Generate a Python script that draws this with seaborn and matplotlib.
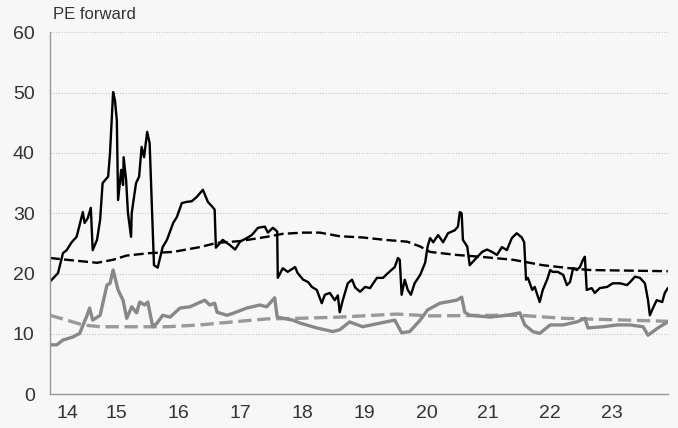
import pandas as pd
import matplotlib.pyplot as plt
import seaborn as sns
import numpy as np

# Values, x in decimal years
blk_x = [2014.42, 2014.45, 2014.55, 2014.63, 2014.69, 2014.77, 2014.85, 2014.90, 2014.95, 2014.98,
         2015.03, 2015.08, 2015.11, 2015.18, 2015.23, 2015.27, 2015.36, 2015.39, 2015.44, 2015.47,
         2015.50, 2015.52, 2015.57, 2015.60, 2015.61, 2015.65, 2015.68, 2015.73, 2015.74, 2015.81,
         2015.86, 2015.90, 2015.94, 2015.99, 2016.03, 2016.07, 2016.10, 2016.16, 2016.24, 2016.31,
         2016.41, 2016.47, 2016.55, 2016.63, 2016.71, 2016.79, 2016.89, 2016.97, 2017.05, 2017.08,
         2017.10, 2017.21, 2017.33, 2017.41, 2017.49, 2017.60, 2017.68, 2017.78, 2017.89, 2017.94,
         2018.02, 2018.09, 2018.10, 2018.18, 2018.26, 2018.38, 2018.42, 2018.51, 2018.59, 2018.65,
         2018.73, 2018.81, 2018.86, 2018.94, 2019.02, 2019.07, 2019.10, 2019.15, 2019.23, 2019.30,
         2019.35, 2019.43, 2019.51, 2019.59, 2019.70, 2019.80, 2019.88, 2019.99, 2020.04, 2020.07,
         2020.10, 2020.15, 2020.20, 2020.25, 2020.31, 2020.40, 2020.48, 2020.52, 2020.56, 2020.61,
         2020.69, 2020.77, 2020.85, 2020.96, 2021.01, 2021.04, 2021.07, 2021.09, 2021.16, 2021.20,
         2021.28, 2021.40, 2021.48, 2021.56, 2021.64, 2021.72, 2021.80, 2021.88, 2021.96, 2022.04,
         2022.08, 2022.11, 2022.14, 2022.21, 2022.25, 2022.30, 2022.33, 2022.38, 2022.45, 2022.50,
         2022.54, 2022.62, 2022.71, 2022.77, 2022.82, 2022.87, 2022.93, 2022.98, 2023.03, 2023.06,
         2023.09, 2023.17, 2023.22, 2023.30, 2023.42, 2023.51, 2023.63, 2023.74, 2023.79, 2023.87,
         2023.95, 2024.03, 2024.08, 2024.11, 2024.16, 2024.22, 2024.31, 2024.35, 2024.40]
blk_y = [18.7, 19.0, 20.1, 23.4, 23.9, 25.2, 26.1, 28.1, 30.2, 28.4,
         29.2, 30.9, 23.9, 25.6, 28.9, 35.0, 36.1, 40.0, 50.1, 48.7,
         45.4, 32.2, 37.2, 34.7, 39.3, 35.5, 30.0, 26.1, 30.0, 35.0,
         36.1, 41.0, 39.3, 43.5, 41.6, 30.2, 21.4, 21.0, 24.4, 25.6,
         28.4, 29.4, 31.7, 31.9, 32.0, 32.7, 33.9, 31.9, 31.0, 30.6,
         24.3, 25.6, 24.7, 24.0, 25.3, 25.9, 26.4, 27.6, 27.8, 26.8,
         27.6, 27.0, 19.3, 20.9, 20.3, 21.1, 20.1, 19.0, 18.6, 17.8,
         17.3, 15.1, 16.5, 16.8, 15.6, 16.4, 13.6, 15.6, 18.4, 19.0,
         17.7, 17.0, 17.8, 17.6, 19.3, 19.3, 20.1, 21.1, 22.6, 22.3,
         16.5, 19.0, 17.3, 16.5, 18.4, 19.8, 21.8, 24.5, 25.9, 25.2,
         26.4, 25.2, 26.7, 27.2, 27.8, 30.2, 30.0, 25.6, 24.5, 21.4,
         22.3, 23.6, 24.0, 23.6, 23.1, 24.4, 23.9, 25.9, 26.7, 26.0,
         25.2, 19.0, 19.3, 17.3, 17.8, 16.2, 15.3, 17.3, 19.0, 20.6,
         20.3, 20.3, 19.8, 18.1, 18.6, 20.9, 20.6, 21.1, 22.3, 22.8,
         17.3, 17.6, 16.8, 17.6, 17.8, 18.4, 18.4, 18.1, 18.6, 19.5,
         19.3, 18.4, 15.6, 13.1, 14.3, 15.6, 15.3, 16.8, 17.6]

blk_avg_x = [2014.42, 2014.69, 2015.18, 2015.44, 2015.66, 2016.03, 2016.41, 2016.84, 2017.12,
             2017.49, 2017.92, 2018.18, 2018.51, 2018.78, 2019.10, 2019.47, 2019.83, 2020.19,
             2020.40, 2020.56, 2020.99, 2021.37, 2021.90, 2022.38, 2022.82, 2023.14, 2024.40]
blk_avg_y = [22.6, 22.3, 21.8, 22.3, 23.0, 23.4, 23.6, 24.4, 25.1,
             25.4, 26.1, 26.6, 26.8, 26.8, 26.2, 26.0, 25.6, 25.3,
             24.5, 23.6, 23.1, 22.8, 22.3, 21.4, 20.9, 20.6, 20.4]

gry_x = [2014.42, 2014.53, 2014.63, 2014.79, 2014.90, 2015.02, 2015.06, 2015.11, 2015.23, 2015.34,
         2015.39, 2015.44, 2015.52, 2015.60, 2015.66, 2015.74, 2015.82, 2015.87, 2015.95, 2016.00,
         2016.08, 2016.15, 2016.24, 2016.36, 2016.52, 2016.68, 2016.92, 2017.00, 2017.08, 2017.12,
         2017.28, 2017.37, 2017.60, 2017.81, 2017.92, 2018.05, 2018.09, 2018.34, 2018.46, 2018.73,
         2018.99, 2019.10, 2019.26, 2019.47, 2019.75, 2019.99, 2020.10, 2020.23, 2020.40, 2020.52,
         2020.72, 2020.99, 2021.07, 2021.12, 2021.20, 2021.53, 2021.80, 2022.01, 2022.09, 2022.22,
         2022.33, 2022.50, 2022.71, 2022.93, 2023.06, 2023.11, 2023.35, 2023.58, 2023.79, 2024.00,
         2024.08, 2024.24, 2024.40]
gry_y = [8.2, 8.2, 9.0, 9.5, 10.1, 13.1, 14.3, 12.3, 13.1, 18.1,
         18.4, 20.6, 17.3, 15.6, 12.6, 14.5, 13.5, 15.3, 14.8, 15.3,
         11.2, 11.8, 13.1, 12.8, 14.3, 14.5, 15.6, 14.8, 15.1, 13.6,
         13.1, 13.4, 14.3, 14.8, 14.5, 16.0, 12.8, 12.3, 11.8, 11.0,
         10.4, 10.7, 12.0, 11.2, 11.8, 12.3, 10.2, 10.4, 12.3, 14.0,
         15.1, 15.6, 16.1, 13.6, 13.1, 12.8, 13.1, 13.5, 11.5, 10.4,
         10.1, 11.5, 11.5, 12.0, 12.6, 11.0, 11.2, 11.5, 11.5, 11.2,
         9.8, 11.0, 12.0]

gry_avg_x = [2014.42, 2014.69, 2014.95, 2015.23, 2015.76, 2016.31, 2016.84, 2017.37, 2017.92,
             2018.46, 2019.10, 2020.02, 2020.56, 2021.64, 2022.01, 2022.71, 2024.40]
gry_avg_y = [13.1, 12.3, 11.5, 11.2, 11.2, 11.2, 11.5, 12.0, 12.5,
             12.6, 12.8, 13.3, 13.0, 13.1, 13.1, 12.6, 12.1]

year_labels = ['14', '15', '16', '17', '18', '19', '20', '21', '22', '23']

sns.set_theme(style="white")
plt.rcParams['font.family'] = ['Liberation Sans', 'DejaVu Sans']
bg = '#f7f7f7'

fig, ax = plt.subplots(figsize=(6.78, 4.28), dpi=100)
fig.patch.set_facecolor(bg)
ax.set_facecolor(bg)
fig.subplots_adjust(left=0.0737, right=0.985, top=0.9245, bottom=0.0787)

sns.lineplot(x=gry_avg_x, y=gry_avg_y, ax=ax, color='#999999', lw=2.4)
ax.lines[-1].set_dashes([4, 1.7])
sns.lineplot(x=gry_x, y=gry_y, ax=ax, color='#888888', lw=2.4)
sns.lineplot(x=blk_avg_x, y=blk_avg_y, ax=ax, color='black', lw=1.7)
ax.lines[-1].set_dashes([4.2, 1.8])
sns.lineplot(x=blk_x, y=blk_y, ax=ax, color='black', lw=1.7)

ax.set_xlim(blk_x[0], blk_x[-1])
ax.set_ylim(0, 60)

# y axis
ax.set_yticks(np.arange(0, 61, 10))
ax.set_yticks(np.arange(0, 61, 2), minor=True)
ax.tick_params(axis='y', which='major', length=5, width=1, color='#999999',
               labelsize=14, labelcolor='#333333', pad=6, direction='out')
ax.tick_params(axis='y', which='minor', length=3, width=1, color='#999999', direction='out')
for g in np.arange(10, 61, 10):
    ax.axhline(g, color='#c8c8c8', lw=0.8, ls=(0, (1, 1.5)), zorder=0)

# x axis: year boundaries major, quarters minor, labels centred in each year
years = np.arange(2015, 2025)
ax.set_xticks(years)
ax.set_xticklabels([''] * len(years))
ax.set_xticks(np.arange(2014.5, 2024.4, 0.25), minor=True)
ax.tick_params(axis='x', which='major', length=6, width=1, color='#999999', direction='out')
ax.tick_params(axis='x', which='minor', length=3, width=1, color='#999999', direction='out')
lab_pos = [(blk_x[0] + 2015) / 2] + [y + 0.5 for y in range(2015, 2024)]
for p, lab in zip(lab_pos, year_labels):
    ax.text(p, -0.03, lab, transform=ax.get_xaxis_transform(), ha='center', va='top',
            fontsize=14, color='#333333')

for s in ['top', 'right']:
    ax.spines[s].set_visible(False)
for s in ['left', 'bottom']:
    ax.spines[s].set_color('#999999')
    ax.spines[s].set_linewidth(1)

fig.text(0.078, 0.965, 'PE forward', ha='left', va='center', fontsize=12, color='#333333')

plt.savefig('out.png', dpi=100, facecolor=bg)
